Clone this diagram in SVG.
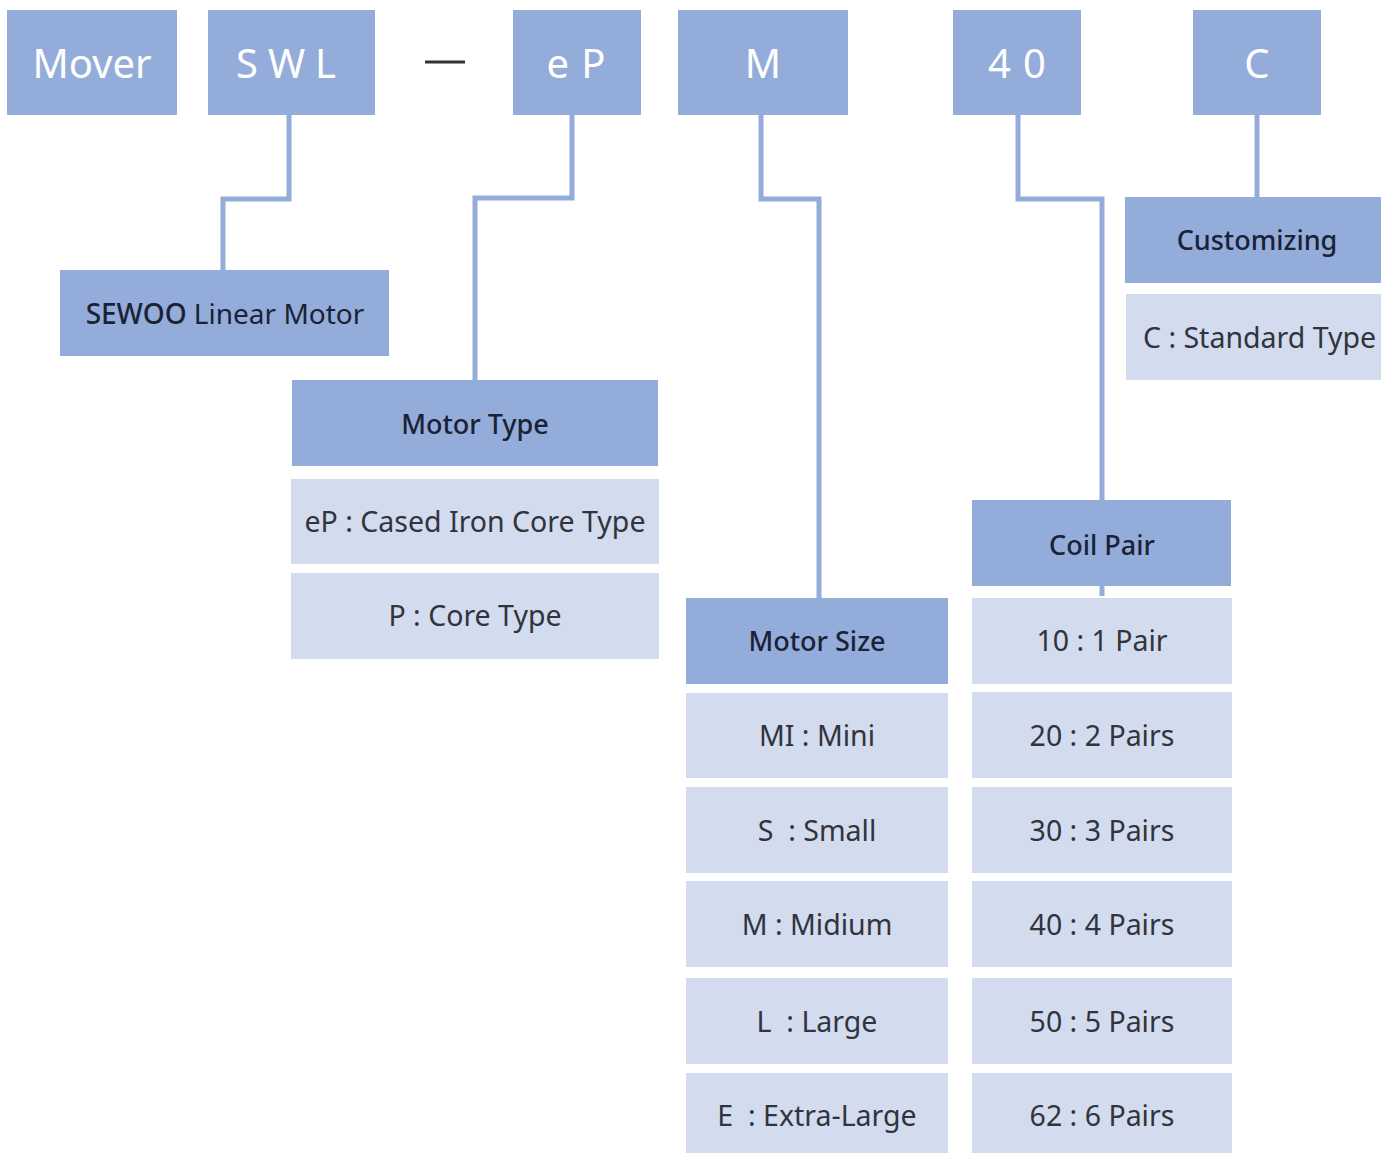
<svg xmlns="http://www.w3.org/2000/svg" width="1381" height="1153" viewBox="0 0 1381 1153">
<style>
.top{fill:#94acd9}
.hd{fill:#94acd9}
.it{fill:#d3dbee}
.tt{font-family:"Noto Sans",sans-serif;font-size:40px;fill:#ffffff;text-anchor:middle;dominant-baseline:central}
.ht{font-family:"Noto Sans",sans-serif;font-size:27px;font-weight:500;fill:#1a2236;text-anchor:middle;dominant-baseline:central}
.itx{font-family:"Noto Sans",sans-serif;font-size:28.5px;fill:#30343c;text-anchor:middle;dominant-baseline:central}
.cn{fill:none;stroke:#94acd9;stroke-width:5}
</style>
<rect width="1381" height="1153" fill="#ffffff"/>
<g id="connectors">
<polyline class="cn" points="289,115 289,199 223,199 223,270"/>
<polyline class="cn" points="572,115 572,198 475,198 475,380"/>
<polyline class="cn" points="761,115 761,199 819,199 819,598"/>
<polyline class="cn" points="1018,115 1018,199 1102,199 1102,500"/>
<line class="cn" x1="1102" y1="586" x2="1102" y2="596"/>
<line class="cn" x1="1257" y1="115" x2="1257" y2="197"/>
<line x1="425" y1="62" x2="465" y2="62" stroke="#333" stroke-width="3"/>
</g>
<g id="mover"><rect class="top" x="7" y="10" width="170" height="105"/><text class="tt" x="92" y="62">Mover</text></g>
<g id="swl"><rect class="top" x="208" y="10" width="167" height="105"/><text class="tt" x="291" y="62" letter-spacing="10">SWL</text></g>
<g id="ep"><rect class="top" x="513" y="10" width="128" height="105"/><text class="tt" x="582" y="62" letter-spacing="12">eP</text></g>
<g id="m"><rect class="top" x="678" y="10" width="170" height="105"/><text class="tt" x="763" y="62">M</text></g>
<g id="n40"><rect class="top" x="953" y="10" width="128" height="105"/><text class="tt" x="1023" y="62" letter-spacing="12">40</text></g>
<g id="c"><rect class="top" x="1193" y="10" width="128" height="105"/><text class="tt" x="1257" y="62">C</text></g>

<g id="sewoo"><rect class="hd" x="60" y="270" width="329" height="86"/><text class="ht" x="225" y="313" style="font-weight:400;font-size:28px"><tspan style="font-weight:500">SEWOO</tspan> Linear Motor</text></g>

<g id="motor-type">
<rect class="hd" x="292" y="380" width="366" height="86"/><text class="ht" x="475" y="423">Motor Type</text>
<rect class="it" x="291" y="479" width="368" height="85"/><text class="itx" x="475" y="521">eP : Cased Iron Core Type</text>
<rect class="it" x="291" y="573" width="368" height="86"/><text class="itx" x="475" y="615">P : Core Type</text>
</g>

<g id="motor-size">
<rect class="hd" x="686" y="598" width="262" height="86"/><text class="ht" x="817" y="640">Motor Size</text>
<rect class="it" x="686" y="693" width="262" height="85"/><text class="itx" x="817" y="735">MI : Mini</text>
<rect class="it" x="686" y="787" width="262" height="86"/><text class="itx" x="817" y="830" xml:space="preserve">S  : Small</text>
<rect class="it" x="686" y="881" width="262" height="86"/><text class="itx" x="817" y="924">M : Midium</text>
<rect class="it" x="686" y="978" width="262" height="86"/><text class="itx" x="817" y="1021" xml:space="preserve">L  : Large</text>
<rect class="it" x="686" y="1073" width="262" height="80"/><text class="itx" x="817" y="1115" xml:space="preserve">E  : Extra-Large</text>
</g>

<g id="coil-pair">
<rect class="hd" x="972" y="500" width="259" height="86"/><text class="ht" x="1102" y="544">Coil Pair</text>
<rect class="it" x="972" y="598" width="260" height="86"/><text class="itx" x="1102" y="640">10 : 1 Pair</text>
<rect class="it" x="972" y="692" width="260" height="86"/><text class="itx" x="1102" y="735">20 : 2 Pairs</text>
<rect class="it" x="972" y="787" width="260" height="86"/><text class="itx" x="1102" y="830">30 : 3 Pairs</text>
<rect class="it" x="972" y="881" width="260" height="86"/><text class="itx" x="1102" y="924">40 : 4 Pairs</text>
<rect class="it" x="972" y="978" width="260" height="86"/><text class="itx" x="1102" y="1021">50 : 5 Pairs</text>
<rect class="it" x="972" y="1073" width="260" height="80"/><text class="itx" x="1102" y="1115">62 : 6 Pairs</text>
</g>

<g id="customizing">
<rect class="hd" x="1125" y="197" width="256" height="86"/><text class="ht" x="1257" y="239">Customizing</text>
<rect class="it" x="1126" y="294" width="255" height="86"/><text class="itx" x="1143" y="337" style="text-anchor:start">C : Standard Type</text>
</g>
</svg>
